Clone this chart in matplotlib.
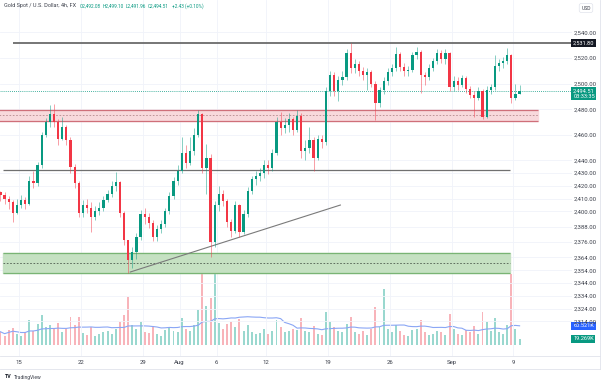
"""Gold spot 4h: candles, volume, zones and levels in TradingView look."""

import matplotlib

matplotlib.use("Agg")
import matplotlib.pyplot as plt
import matplotlib.transforms as mtransforms
import numpy as np
import pandas as pd

plt.rcParams["font.family"] = ["Roboto", "DejaVu Sans"]

TITLE = "Gold Spot / U.S. Dollar, 4h, FX"
OHLC_TEXT = ["O2,492.08", "H2,499.10", "L2,491.96", "C2,494.51", "+2.43 (+0.10%)"]
COUNTDOWN = "03:33:35"

first_open = 2415.0
closes = [
    2413, 2410, 2407, 2399, 2405, 2409, 2406, 2424, 2422, 2436,
    2460, 2470, 2476, 2470, 2457, 2466, 2456, 2435, 2422, 2399,
    2405, 2403, 2396, 2400, 2403, 2409, 2414, 2420, 2423, 2399,
    2378, 2362, 2368, 2380, 2398, 2396, 2391, 2380, 2386, 2390,
    2400, 2412, 2424, 2432, 2446, 2438, 2447, 2460, 2476, 2434,
    2442, 2376, 2405, 2414, 2408, 2392, 2385, 2405, 2384, 2398,
    2416, 2425, 2428, 2430, 2436, 2434, 2446, 2470, 2465, 2468,
    2472, 2464, 2475, 2447, 2450, 2456, 2442, 2457, 2454, 2494,
    2507, 2494, 2503, 2505, 2524, 2512, 2515, 2510, 2507, 2509,
    2500, 2485, 2495, 2502, 2509, 2512, 2523, 2513, 2510, 2511,
    2522, 2525, 2507, 2505, 2512, 2518, 2524, 2519, 2524, 2497,
    2502, 2499, 2504, 2496, 2491, 2489, 2494, 2474, 2495, 2497,
    2514, 2516, 2518, 2522, 2489, 2492.08, 2494.51,
]
highs = [
    2416, 2415, 2412, 2409, 2410, 2413, 2411, 2428, 2432, 2439,
    2462, 2473, 2483, 2484, 2472, 2474, 2468, 2458, 2437, 2424,
    2409, 2410, 2407, 2404, 2407, 2412, 2417, 2424, 2431, 2424,
    2400, 2378, 2372, 2383, 2401, 2403, 2399, 2393, 2389, 2393,
    2403, 2415, 2427, 2436, 2458, 2452, 2458, 2465, 2479, 2477,
    2453, 2445, 2408, 2420, 2417, 2410, 2394, 2408, 2406, 2401,
    2419, 2428, 2432, 2434, 2440, 2440, 2449, 2474, 2478, 2473,
    2477, 2474, 2479, 2477, 2456, 2466, 2458, 2460, 2460, 2497,
    2510, 2509, 2506, 2510, 2527, 2531.8, 2519, 2518, 2513, 2512,
    2511, 2502, 2497, 2505, 2512, 2515, 2529, 2525, 2516, 2514,
    2525, 2529, 2526, 2509, 2515, 2520, 2527, 2526, 2527, 2525,
    2506, 2505, 2507, 2506, 2498, 2494, 2497, 2496, 2498, 2500,
    2522, 2519, 2521, 2528, 2523, 2500, 2499.10,
]
lows = [
    2408, 2406, 2402, 2392, 2398, 2403, 2402, 2405, 2418, 2420,
    2434, 2458, 2466, 2466, 2452, 2456, 2452, 2430, 2418, 2396,
    2396, 2399, 2384, 2393, 2397, 2400, 2407, 2411, 2416, 2396,
    2374, 2352, 2356, 2363, 2378, 2390, 2387, 2377, 2377, 2383,
    2388, 2398, 2410, 2421, 2430, 2434, 2436, 2444, 2458, 2430,
    2414, 2364, 2372, 2400, 2404, 2388, 2380, 2383, 2380, 2382,
    2396, 2414, 2421, 2424, 2426, 2429, 2432, 2444, 2460, 2461,
    2462, 2460, 2462, 2442, 2440, 2446, 2432, 2440, 2450, 2452,
    2490, 2490, 2486, 2499, 2503, 2508, 2508, 2506, 2503, 2495,
    2497, 2471.5, 2482, 2492, 2499, 2506, 2510, 2510, 2506, 2506,
    2509, 2519, 2493, 2499, 2503, 2510, 2515, 2516, 2515, 2494,
    2494, 2495, 2497, 2493, 2489, 2474, 2487, 2472, 2473, 2492,
    2495, 2510, 2512, 2515, 2485, 2487, 2491.96,
]
volumes = [
    42, 30, 48, 55, 35, 28, 40, 78, 45, 66,
    95, 58, 62, 52, 70, 42, 50, 88, 64, 90,
    38, 33, 58, 30, 36, 42, 46, 34, 52, 74,
    96, 152, 64, 52, 72, 42, 38, 60, 34, 30,
    48, 56, 45, 40, 86, 52, 45, 62, 110, 283,
    125, 150, 232, 70, 52, 66, 72, 56, 84, 45,
    64, 40, 34, 38, 52, 34, 45, 78, 56, 40,
    45, 52, 48, 86, 45, 40, 60, 36, 33, 105,
    72, 56, 45, 40, 68, 88, 40, 36, 45, 33,
    52, 120, 56, 178, 52, 40, 64, 45, 33, 30,
    48, 52, 78, 40, 33, 36, 45, 40, 33, 98,
    52, 36, 33, 48, 40, 60, 36, 105, 72, 45,
    86, 40, 36, 62, 225, 52, 19.269,
]
vol_ma_last = 60.521

date_labels = ["15", "22", "29", "Aug", "6", "12", "19", "26", "Sep", "9"]
date_pos = [0, 5, 10, 13, 16, 20, 25, 30, 35, 40]  # trading days from Jul 15

price_ticks = [2540, 2520, 2500, 2480, 2460, 2440, 2430, 2420, 2410, 2400,
               2388, 2376, 2364, 2354, 2344, 2334, 2324, 2314]

ath_level = 2531.80
last_price = 2494.51
resist_zone = (2470.8, 2479.4)
support_level = 2432.4
support_zone = (2351.8, 2367.5)
trend_from = (9.0, 2352.6)
trend_to = (26.0, 2405.0)

GREEN = "#089981"
RED = "#f23645"
GRID = "#f0f3fa"
TXT = "#3b3f4a"

W, H = 610, 385


def fx(px):
    return px / W


def fy(py):
    return 1 - py / H


fig = plt.figure(figsize=(W / 100, H / 100), dpi=100)
fig.patch.set_facecolor("white")

# price pane: x 0..572 px, y 0..356 px
ax_vol = fig.add_axes([0, fy(356), fx(572), 356 / H])
ax = fig.add_axes([0, fy(356), fx(572), 356 / H], sharex=ax_vol)
ax.set_zorder(ax_vol.get_zorder() + 1)
ax.patch.set_visible(False)

n = len(closes)
x = -1.5 + np.arange(n) / 3
c = np.array(closes, dtype=float)
o = np.array([first_open] + closes[:-1], dtype=float)
hi = np.array(highs, dtype=float)
lo = np.array(lows, dtype=float)
up = c >= o
cols = np.where(up, GREEN, RED)

ax.set_xlim(-1.537, 44.74)
ax.set_ylim(2286.9, 2565.4)

# zones and levels
ax.fill_between([-1.6, 41.99], *resist_zone, color="#f8d9dc", zorder=1)
for lvl in resist_zone:
    ax.hlines(lvl, -1.6, 41.99, color="#cf6f79", lw=0.9, zorder=1.5)
ax.hlines(sum(resist_zone) / 2, -1.6, 41.99, color="#b58a8e", lw=0.6,
          linestyles=(0, (2, 2)), zorder=1.5)

ax.fill_between([-1.3, 39.72], *support_zone, color="#c5e1c2", zorder=1)
for lvl in support_zone:
    ax.hlines(lvl, -1.3, 39.72, color="#79b474", lw=0.9, zorder=1.5)
ax.hlines(sum(support_zone) / 2, -1.3, 39.72, color="#4d5a4d", lw=0.6,
          linestyles=(0, (2, 2)), zorder=1.5)

ax.hlines(ath_level, -0.49, 44.74, color="#6b6b6b", lw=1.3, zorder=2)
ax.hlines(support_level, -1.3, 39.72, color="#707070", lw=0.9, zorder=2)
ax.plot([trend_from[0], trend_to[0]], [trend_from[1], trend_to[1]],
        color="#7a7a7a", lw=0.8, zorder=2)
ax.hlines(last_price, -1.6, 44.74, color=GREEN, lw=0.6,
          linestyles=(0, (1, 1.5)), zorder=2)

# candles
ax.vlines(x, lo, hi, colors=cols, lw=0.45, alpha=0.75, zorder=3)
body = np.maximum(np.abs(c - o), 0.4)
ax.bar(x, body, bottom=np.minimum(o, c), width=0.18, color=cols,
       linewidth=0, zorder=4)

# volume
ax_vol.bar(x, volumes, width=0.16, color=np.where(up, "#9ad8cf", "#f8b4ba"),
           linewidth=0, zorder=2)
vol_ma = pd.Series(volumes).rolling(20, min_periods=1).mean()
ax_vol.plot(x, vol_ma, color="#8aa6f5", lw=0.8, zorder=3)
ax_vol.set_ylim(-34.9, 1095.2)
ax_vol.set_yticks([])
for s in ax_vol.spines.values():
    s.set_visible(False)

# grid + axes text
ax.set_xticks(date_pos)
ax.set_xticklabels(date_labels)
ax.set_yticks(price_ticks)
ax.set_yticklabels([f"{v:,.2f}" for v in price_ticks])
ax.yaxis.tick_right()
ax.tick_params(axis="both", length=0, labelsize=4.3, labelcolor=TXT)
ax.tick_params(axis="x", pad=3)
ax.tick_params(axis="y", pad=1.5)
ax.grid(True, color=GRID, lw=0.6, zorder=0)
ax.set_axisbelow(True)
ax_vol.tick_params(axis="x", length=0, labelbottom=False)
for s in ax.spines.values():
    s.set_visible(False)

# price scale tags
tr_p = mtransforms.blended_transform_factory(ax.transAxes, ax.transData)
tr_v = mtransforms.blended_transform_factory(ax_vol.transAxes, ax_vol.transData)
tag = dict(ha="left", va="center", fontsize=4.1, color="white", clip_on=False,
           zorder=10)
ax.text(1.002, ath_level, f"{ath_level:,.2f}", transform=tr_p,
        bbox=dict(boxstyle="square,pad=0.3", fc="#131722", ec="none"), **tag)
ax.text(1.002, last_price - 2.2, f"{last_price:,.2f}\n{COUNTDOWN}",
        transform=tr_p, linespacing=1.1,
        bbox=dict(boxstyle="square,pad=0.3", fc=GREEN, ec="none"), **tag)
ax_vol.text(1.002, vol_ma_last, f"{vol_ma_last:.3f}K", transform=tr_v,
            bbox=dict(boxstyle="square,pad=0.3", fc="#2962ff", ec="none"), **tag)
ax_vol.text(1.002, volumes[-1], f"{volumes[-1]:.3f}K", transform=tr_v,
            bbox=dict(boxstyle="square,pad=0.3", fc=GREEN, ec="none"), **tag)

# header
fig.text(fx(4), fy(6), TITLE, fontsize=4.0, color=TXT, va="center")
for xpos, t in zip([80, 103, 126, 148, 172], OHLC_TEXT):
    fig.text(fx(xpos), fy(6), t, fontsize=3.4, color=GREEN, va="center")
fig.text(fx(586), fy(8), "USD", fontsize=3.6, color=TXT, ha="center",
         va="center",
         bbox=dict(boxstyle="round,pad=0.4", fc="white", ec="#e0e3eb", lw=0.5))

# frame lines
border = "#e0e3eb"
fig.add_artist(plt.Line2D([0, fx(600)], [fy(356), fy(356)], color=border, lw=0.6))
fig.add_artist(plt.Line2D([0, fx(600)], [fy(369), fy(369)], color=border, lw=0.6))
fig.add_artist(plt.Line2D([fx(600), fx(600)], [fy(0), fy(369)], color=border, lw=0.6))

fig.text(fx(5), fy(377), "TV", fontsize=3.8, fontweight="bold", color="#131722",
         va="center")
fig.text(fx(14), fy(377), "TradingView", fontsize=3.6, color=TXT, va="center")

fig.savefig("out.png", dpi=100)
